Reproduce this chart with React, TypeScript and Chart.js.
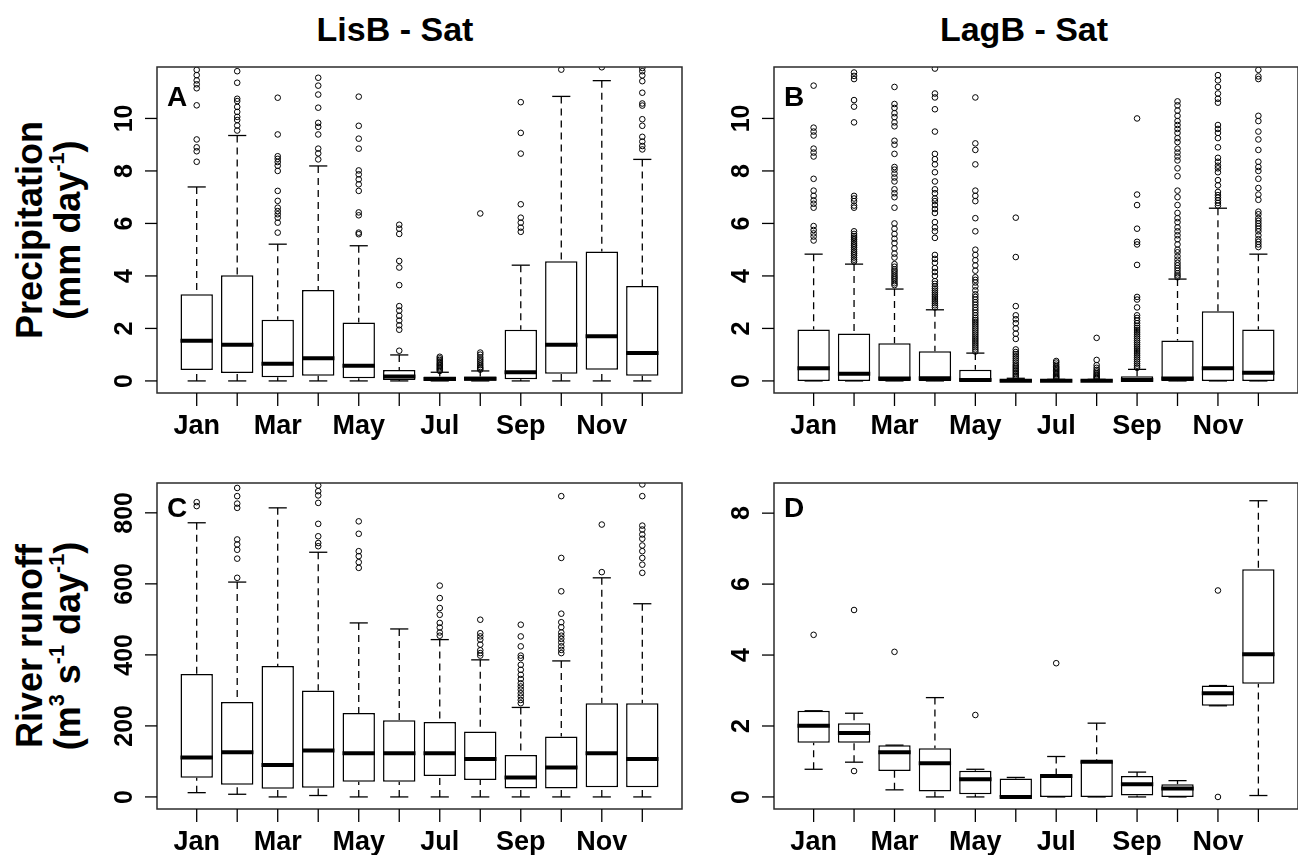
import React, { useEffect, useRef } from "react";
import { Chart, registerables } from "chart.js";

Chart.register(...registerables);

// ---------- categories & tick labels ----------
const months = ["Jan", "Feb", "Mar", "Apr", "May", "Jun", "Jul", "Aug", "Sep", "Oct", "Nov", "Dec"];
const monthTickLabels = ["Jan", "", "Mar", "", "May", "", "Jul", "", "Sep", "", "Nov", ""];
const precipTicks = [0, 2, 4, 6, 8, 10];
const runoffLisTicks = [0, 200, 400, 600, 800];
const runoffLagTicks = [0, 2, 4, 6, 8];

// ---------- A: LisB precipitation ----------
const lisPrecipLower = [0, 0, 0, 0, 0, 0, 0, 0, 0, 0, 0, 0];
const lisPrecipQ1 = [0.42, 0.3, 0.14, 0.2, 0.1, 0.04, 0.01, 0.01, 0.06, 0.27, 0.43, 0.2];
const lisPrecipMedian = [1.53, 1.38, 0.65, 0.86, 0.58, 0.17, 0.07, 0.08, 0.33, 1.38, 1.7, 1.06];
const lisPrecipQ3 = [3.3, 4.03, 2.33, 3.46, 2.23, 0.42, 0.17, 0.17, 1.95, 4.56, 4.93, 3.62];
const lisPrecipUpper = [7.39, 9.35, 5.21, 8.19, 5.15, 0.99, 0.33, 0.38, 4.41, 10.84, 11.44, 8.44];
const lisPrecipOutliers = [
  [8.35, 8.75, 8.9, 9.2, 10.5, 11.15, 11.3, 11.45, 11.65, 11.85],
  [9.54, 9.73, 9.94, 10.06, 10.25, 10.44, 10.66, 10.75, 11.36, 11.8],
  [5.65, 6.03, 6.22, 6.35, 6.47, 6.6, 6.86, 7.24, 8.0, 8.2, 8.34, 8.46, 8.56, 9.39, 10.79],
  [8.44, 8.67, 8.85, 9.39, 9.68, 9.83, 10.41, 10.91, 11.25, 11.55],
  [5.59, 5.65, 6.31, 6.42, 7.24, 7.49, 7.68, 7.87, 8.02, 8.85, 9.23, 9.72, 10.83],
  [1.15, 1.95, 2.12, 2.3, 2.48, 2.68, 2.85, 3.65, 4.32, 4.57, 5.6, 5.8, 5.95],
  [0.38, 0.43, 0.48, 0.53, 0.58, 0.63, 0.68, 0.74, 0.8, 0.86, 0.92],
  [0.43, 0.48, 0.53, 0.6, 0.67, 0.75, 0.82, 0.9, 1.0, 1.08, 6.38],
  [5.68, 5.84, 6.03, 6.22, 6.73, 8.66, 9.45, 10.62],
  [11.86],
  [11.95],
  [8.82, 8.95, 9.12, 9.3, 9.72, 9.97, 10.49, 10.57, 10.98, 11.42, 11.64, 11.8, 11.92],
];

// ---------- B: LagB precipitation ----------
const lagPrecipLower = [0, 0, 0, 0, 0, 0, 0, 0, 0, 0, 0, 0];
const lagPrecipQ1 = [0, 0, 0, 0, 0, 0, 0, 0, 0, 0, 0, 0];
const lagPrecipMedian = [0.48, 0.27, 0.09, 0.1, 0.04, 0.01, 0.01, 0.01, 0.04, 0.09, 0.48, 0.31];
const lagPrecipQ3 = [1.96, 1.81, 1.44, 1.13, 0.43, 0.04, 0.03, 0.03, 0.18, 1.54, 2.65, 1.96];
const lagPrecipUpper = [4.83, 4.45, 3.5, 2.71, 1.06, 0.1, 0.06, 0.06, 0.44, 3.88, 6.58, 4.83];
const lagPrecipOutliers = [
  [5.35, 5.5, 5.62, 5.75, 5.9, 6.6, 6.75, 6.88, 7.05, 7.25, 7.7, 8.55, 8.7, 8.85, 9.35, 9.5, 9.65, 11.25],
  [4.55, 4.62, 4.7, 4.78, 4.85, 4.92, 5.0, 5.08, 5.15, 5.22, 5.3, 5.38, 5.45, 5.52, 5.6, 5.7, 6.6, 6.68, 6.85, 6.95, 7.05, 9.85, 10.45, 10.7, 11.5, 11.62, 11.75],
  [3.65, 3.72, 3.8, 3.88, 3.95, 4.02, 4.1, 4.18, 4.25, 4.35, 4.45, 4.7, 4.85, 5.05, 5.25, 5.42, 5.6, 5.8, 6.0, 6.6, 7.0, 7.15, 7.3, 7.6, 7.75, 7.9, 8.05, 8.15, 8.65, 9.0, 9.15, 9.7, 9.85, 10.05, 10.2, 10.4, 10.55, 11.2],
  [2.8, 2.88, 2.96, 3.04, 3.12, 3.2, 3.28, 3.36, 3.44, 3.52, 3.6, 3.7, 3.8, 4.0, 4.15, 4.3, 4.5, 4.65, 4.8, 5.45, 5.7, 5.85, 6.05, 6.4, 6.55, 6.7, 6.85, 6.95, 7.15, 7.3, 7.6, 7.95, 8.25, 8.45, 8.65, 9.5, 10.35, 10.8, 10.95, 11.9],
  [1.12, 1.2, 1.28, 1.36, 1.44, 1.52, 1.6, 1.68, 1.76, 1.84, 1.92, 2.0, 2.08, 2.16, 2.24, 2.32, 2.4, 2.5, 2.6, 2.7, 2.8, 2.9, 3.0, 3.1, 3.2, 3.3, 3.45, 3.6, 3.75, 3.85, 3.95, 4.2, 4.4, 4.6, 4.8, 5.0, 5.7, 6.2, 6.85, 7.05, 7.25, 8.25, 8.8, 9.05, 10.8],
  [0.14, 0.2, 0.26, 0.32, 0.38, 0.44, 0.5, 0.56, 0.62, 0.7, 0.78, 0.86, 0.94, 1.02, 1.1, 1.2, 1.6, 1.8, 2.0, 2.2, 2.35, 2.5, 2.85, 4.72, 6.22],
  [0.08, 0.12, 0.16, 0.2, 0.25, 0.3, 0.35, 0.4, 0.45, 0.5, 0.55, 0.62, 0.7, 0.76],
  [0.08, 0.12, 0.16, 0.2, 0.25, 0.3, 0.36, 0.42, 0.5, 0.6, 0.8, 1.64],
  [0.5, 0.58, 0.66, 0.74, 0.82, 0.9, 0.98, 1.06, 1.14, 1.22, 1.3, 1.38, 1.46, 1.54, 1.62, 1.7, 1.78, 1.86, 1.94, 2.02, 2.1, 2.2, 2.3, 2.4, 2.5, 2.8, 3.1, 3.2, 4.42, 5.2, 5.3, 5.8, 6.7, 7.1, 10.0],
  [3.95, 4.02, 4.1, 4.2, 4.3, 4.4, 4.5, 4.62, 4.75, 4.9, 5.0, 5.2, 5.4, 5.55, 5.7, 5.85, 6.05, 6.2, 6.4, 6.7, 7.0, 7.25, 7.8, 8.1, 8.4, 8.55, 8.7, 8.85, 9.1, 9.25, 9.45, 9.6, 9.75, 9.9, 10.1, 10.3, 10.5, 10.65],
  [6.68, 6.78, 6.88, 6.98, 7.08, 7.2, 7.45, 7.65, 7.95, 8.1, 8.2, 8.35, 8.5, 8.9, 9.25, 9.45, 9.6, 9.75, 10.6, 10.75, 10.95, 11.2, 11.45, 11.65],
  [5.1, 5.2, 5.3, 5.4, 5.55, 5.7, 5.8, 5.9, 6.0, 6.1, 6.2, 6.35, 6.45, 6.9, 7.1, 7.35, 7.7, 8.0, 8.15, 8.35, 8.8, 9.2, 9.5, 9.9, 10.1, 11.5, 11.6, 11.85],
];

// ---------- C: LisB river runoff ----------
const lisRunoffLower = [12, 7.5, 0, 4, 0, 0, 0, 0, 0, 0, 0, 0];
const lisRunoffQ1 = [54, 34, 23, 26, 43, 43, 59, 48, 24, 24, 27, 27];
const lisRunoffMedian = [111, 126, 90, 131, 123, 123, 123, 107, 55, 83, 123, 107];
const lisRunoffQ3 = [346, 267, 369, 300, 236, 216, 211, 184, 118, 170, 264, 264];
const lisRunoffUpper = [772, 605, 814, 689, 490, 473, 443, 386, 252, 383, 617, 544];
const lisRunoffOutliers = [
  [819, 830],
  [617, 671, 696, 711, 725, 814, 826, 847, 870],
  [],
  [706, 715, 734, 769, 828, 849, 861, 877],
  [645, 661, 678, 692, 741, 776],
  [],
  [454, 463, 477, 490, 513, 532, 560, 595],
  [398, 405, 413, 429, 443, 452, 461, 499],
  [264, 273, 283, 292, 302, 311, 320, 332, 344, 358, 372, 391, 398, 424, 452, 485],
  [405, 414, 424, 435, 445, 454, 463, 478, 492, 516, 579, 673, 847],
  [633, 767],
  [631, 654, 673, 692, 708, 727, 739, 753, 764, 847, 880],
];

// ---------- D: LagB river runoff ----------
const lagRunoffLower = [0.78, 0.98, 0.2, 0, 0, 0, 0, 0, 0, 0, 2.57, 0.04];
const lagRunoffQ1 = [1.53, 1.53, 0.73, 0.15, 0.075, 0, 0, 0, 0.04, 0, 2.57, 3.19];
const lagRunoffMedian = [2.01, 1.8, 1.26, 0.95, 0.5, 0, 0.59, 0.99, 0.36, 0.24, 2.92, 4.02];
const lagRunoffQ3 = [2.43, 2.08, 1.46, 1.37, 0.74, 0.52, 0.62, 1.02, 0.59, 0.36, 3.14, 6.42];
const lagRunoffUpper = [2.43, 2.36, 1.46, 2.8, 0.78, 0.55, 1.14, 2.08, 0.7, 0.46, 3.14, 8.35];
const lagRunoffOutliers = [
  [4.57],
  [5.27, 0.73],
  [4.09],
  [],
  [2.31],
  [],
  [3.77],
  [],
  [],
  [],
  [5.82, 0],
  [],
];

type Box = { l: number; t: number; r: number; b: number };
type Spec = {
  letter: string;
  box: Box;
  yMin: number;
  yMax: number;
  yTicks: number[];
  lower: number[];
  q1: number[];
  median: number[];
  q3: number[];
  upper: number[];
  outliers: number[][];
  letterBaseline: number;
};

const FONT = '"Liberation Sans", Arial, Helvetica, sans-serif';
const PAD = { left: 67, top: 12, right: 18, bottom: 62 };

const panels: Spec[] = [
  {
    letter: "A", box: { l: 157, t: 67, r: 682, b: 393 }, yMin: -0.46, yMax: 11.96, yTicks: precipTicks,
    lower: lisPrecipLower, q1: lisPrecipQ1, median: lisPrecipMedian, q3: lisPrecipQ3, upper: lisPrecipUpper,
    outliers: lisPrecipOutliers, letterBaseline: 39,
  },
  {
    letter: "B", box: { l: 774, t: 67, r: 1298, b: 393 }, yMin: -0.46, yMax: 11.96, yTicks: precipTicks,
    lower: lagPrecipLower, q1: lagPrecipQ1, median: lagPrecipMedian, q3: lagPrecipQ3, upper: lagPrecipUpper,
    outliers: lagPrecipOutliers, letterBaseline: 39,
  },
  {
    letter: "C", box: { l: 157, t: 483, r: 682, b: 809 }, yMin: -34, yMax: 884, yTicks: runoffLisTicks,
    lower: lisRunoffLower, q1: lisRunoffQ1, median: lisRunoffMedian, q3: lisRunoffQ3, upper: lisRunoffUpper,
    outliers: lisRunoffOutliers, letterBaseline: 34,
  },
  {
    letter: "D", box: { l: 774, t: 483, r: 1298, b: 809 }, yMin: -0.34, yMax: 8.85, yTicks: runoffLagTicks,
    lower: lagRunoffLower, q1: lagRunoffQ1, median: lagRunoffMedian, q3: lagRunoffQ3, upper: lagRunoffUpper,
    outliers: lagRunoffOutliers, letterBaseline: 34,
  },
];

function makeBoxPlugin(spec: Spec) {
  return {
    id: "rBoxplot",
    beforeDatasetsDraw(chart: any) {
      const { ctx, chartArea: a, scales } = chart;
      const x = scales.x;
      const y = scales.y;
      const meta = chart.getDatasetMeta(0);
      ctx.save();
      ctx.beginPath();
      ctx.rect(a.left, a.top, a.right - a.left, a.bottom - a.top);
      ctx.clip();
      ctx.strokeStyle = "#000";
      ctx.lineWidth = 1.3;
      spec.q1.forEach((_, i) => {
        const el = meta.data[i];
        const px = x.getPixelForValue(i + 1);
        const capHalf = (el.width / 2) * 0.56;
        const pairs = [
          [spec.upper[i], spec.q3[i]],
          [spec.lower[i], spec.q1[i]],
        ];
        pairs.forEach(([w, q]) => {
          const yw = y.getPixelForValue(w);
          const yq = y.getPixelForValue(q);
          ctx.setLineDash([7, 5]);
          ctx.beginPath();
          ctx.moveTo(px, yw);
          ctx.lineTo(px, yq);
          ctx.stroke();
          ctx.setLineDash([]);
          ctx.beginPath();
          ctx.moveTo(px - capHalf, yw);
          ctx.lineTo(px + capHalf, yw);
          ctx.stroke();
        });
      });
      ctx.restore();
    },
    afterDatasetDraw(chart: any, args: any) {
      if (args.index !== 0) return;
      const { ctx, chartArea: a, scales } = chart;
      const y = scales.y;
      const meta = chart.getDatasetMeta(0);
      ctx.save();
      ctx.beginPath();
      ctx.rect(a.left, a.top, a.right - a.left, a.bottom - a.top);
      ctx.clip();
      ctx.strokeStyle = "#000";
      ctx.lineWidth = 4;
      ctx.lineCap = "butt";
      spec.median.forEach((m, i) => {
        const el = meta.data[i];
        const py = y.getPixelForValue(m);
        ctx.beginPath();
        ctx.moveTo(el.x - el.width / 2, py);
        ctx.lineTo(el.x + el.width / 2, py);
        ctx.stroke();
      });
      ctx.restore();
    },
    afterDraw(chart: any) {
      const { ctx, chartArea: a, scales } = chart;
      const x = scales.x;
      const y = scales.y;
      ctx.save();
      // frame
      ctx.strokeStyle = "#2b2b2b";
      ctx.lineWidth = 1.5;
      ctx.strokeRect(a.left, a.top, a.right - a.left, a.bottom - a.top);
      // x ticks and labels
      ctx.strokeStyle = "#000";
      ctx.lineWidth = 1.3;
      ctx.fillStyle = "#000";
      ctx.font = `bold 27px ${FONT}`;
      ctx.textAlign = "center";
      ctx.textBaseline = "alphabetic";
      months.forEach((_, i) => {
        const px = x.getPixelForValue(i + 1);
        ctx.beginPath();
        ctx.moveTo(px, a.bottom);
        ctx.lineTo(px, a.bottom + 13);
        ctx.stroke();
        const lab = monthTickLabels[i];
        if (lab) ctx.fillText(lab, px, a.bottom + 41);
      });
      // y ticks and rotated labels
      ctx.font = `bold 25px ${FONT}`;
      spec.yTicks.forEach((v) => {
        const py = y.getPixelForValue(v);
        ctx.beginPath();
        ctx.moveTo(a.left - 12, py);
        ctx.lineTo(a.left, py);
        ctx.stroke();
        ctx.save();
        ctx.translate(a.left - 25, py);
        ctx.rotate(-Math.PI / 2);
        ctx.textAlign = "center";
        ctx.fillText(String(v), 0, 0);
        ctx.restore();
      });
      // panel letter
      ctx.font = `bold 28px ${FONT}`;
      ctx.textAlign = "left";
      ctx.fillText(spec.letter, a.left + 10, a.top + spec.letterBaseline);
      ctx.restore();
    },
  };
}

function Panel({ spec }: { spec: Spec }) {
  const ref = useRef<HTMLCanvasElement>(null);
  const w = spec.box.r - spec.box.l + PAD.left + PAD.right;
  const h = spec.box.b - spec.box.t + PAD.top + PAD.bottom;
  useEffect(() => {
    if (!ref.current) return;
    const points: { x: number; y: number }[] = [];
    spec.outliers.forEach((arr, i) => arr.forEach((v) => points.push({ x: i + 1, y: v })));
    const chart = new Chart(ref.current, {
      type: "bar",
      data: {
        datasets: [
          {
            type: "bar",
            data: spec.q1.map((q, i) => ({ x: i + 1, y: [q, spec.q3[i]] })) as any,
            backgroundColor: "#ffffff",
            borderColor: "#000000",
            borderWidth: 1.5,
            borderSkipped: false,
            barPercentage: 0.8,
            categoryPercentage: 1,
            order: 1,
          } as any,
          {
            type: "scatter",
            data: points,
            pointStyle: "circle",
            pointRadius: 2.8,
            pointBorderWidth: 1,
            pointBorderColor: "#000000",
            pointBackgroundColor: "rgba(0,0,0,0)",
            clip: 0,
            order: 0,
          } as any,
        ],
      },
      options: {
        responsive: false,
        animation: false,
        devicePixelRatio: 1,
        events: [],
        layout: { padding: PAD },
        plugins: { legend: { display: false }, tooltip: { enabled: false } },
        scales: {
          x: { type: "linear", min: 0.02, max: 12.98, offset: false, display: false },
          y: { type: "linear", min: spec.yMin, max: spec.yMax, display: false },
        },
      } as any,
      plugins: [makeBoxPlugin(spec)],
    });
    return () => chart.destroy();
  }, [spec]);
  return (
    <canvas
      ref={ref}
      width={w}
      height={h}
      style={{
        position: "absolute",
        left: spec.box.l - PAD.left,
        top: spec.box.t - PAD.top,
        width: w,
        height: h,
      }}
    />
  );
}

const sup: React.CSSProperties = { fontSize: "0.6em", position: "relative", top: "-0.75em" };

export default function App() {
  return (
    <div
      style={{
        position: "absolute",
        left: 0,
        top: 0,
        width: 1298,
        height: 855,
        overflow: "hidden",
        background: "#ffffff",
        fontFamily: FONT,
        fontWeight: "bold",
        color: "#000",
      }}
    >
      <div style={{ position: "absolute", left: 395, top: 12, transform: "translateX(-50%)", fontSize: 34, lineHeight: "34px", whiteSpace: "nowrap" }}>
        LisB - Sat
      </div>
      <div style={{ position: "absolute", left: 1024, top: 12, transform: "translateX(-50%)", fontSize: 34, lineHeight: "34px", whiteSpace: "nowrap" }}>
        LagB - Sat
      </div>
      <div
        style={{
          position: "absolute",
          left: 51,
          top: 230,
          transform: "translate(-50%, -50%) rotate(-90deg)",
          fontSize: 36,
          lineHeight: "38px",
          textAlign: "center",
          whiteSpace: "nowrap",
        }}
      >
        <div>Precipitation</div>
        <div>
          (mm day<span style={sup}>-1</span>)
        </div>
      </div>
      <div
        style={{
          position: "absolute",
          left: 51,
          top: 646,
          transform: "translate(-50%, -50%) rotate(-90deg)",
          fontSize: 36,
          lineHeight: "38px",
          textAlign: "center",
          whiteSpace: "nowrap",
        }}
      >
        <div>River runoff</div>
        <div>
          (m<span style={sup}>3</span> s<span style={sup}>-1</span> day<span style={sup}>-1</span>)
        </div>
      </div>
      {panels.map((p) => (
        <Panel key={p.letter} spec={p} />
      ))}
    </div>
  );
}
